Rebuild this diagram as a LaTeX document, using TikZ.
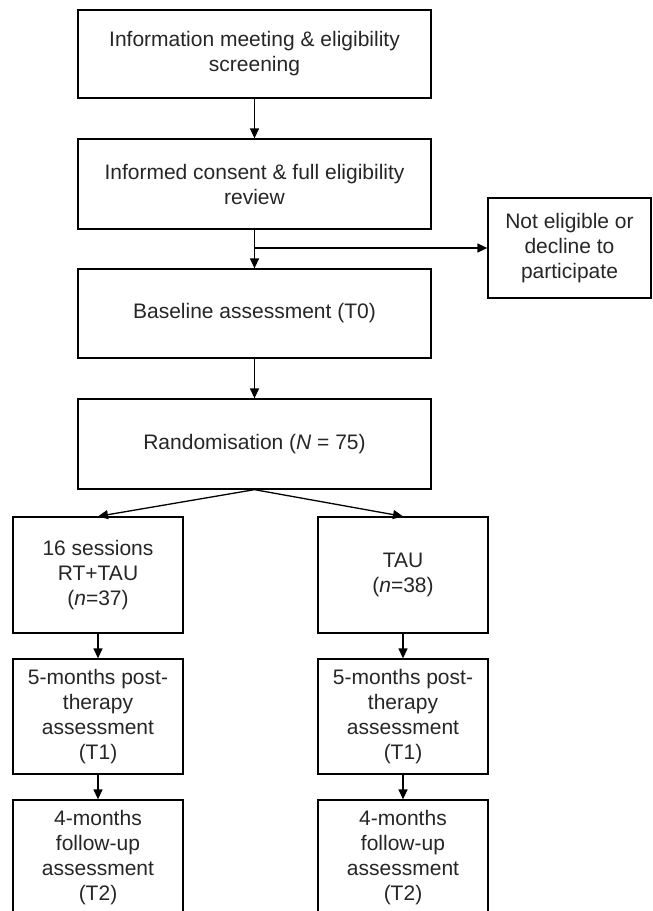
\documentclass[tikz,border=0pt]{standalone}
\usepackage{fontspec}
\setmainfont{Liberation Sans}
\usetikzlibrary{arrows.meta}
\definecolor{txt}{HTML}{262626}
\tikzset{
  box/.style={draw=black, line width=1.3pt, fill=white, align=center, inner sep=0pt,
    text=txt, font=\fontsize{21}{25}\selectfont},
  arr/.style={draw=black, line width=1.3pt, -{Triangle[length=10pt,width=9pt]}},
  ln/.style={draw=black, line width=1.3pt}
}
\begin{document}
\begin{tikzpicture}[x=1pt,y=-1pt]
\useasboundingbox (0,0) rectangle (653,911);
\clip (0,0) rectangle (653,911);
\node[box, minimum width=353pt, minimum height=88pt] (b1) at (254.5,54) {Information meeting \& eligibility\\screening};
\node[box, minimum width=353pt, minimum height=90pt] (b2) at (254.5,184) {Informed consent \& full eligibility\\review};
\node[box, minimum width=353pt, minimum height=89pt] (b3) at (254.5,313.5) {Baseline assessment (T0)};
\node[box, minimum width=353pt, minimum height=90pt] (b4) at (254.5,444) {Randomisation (\textit{N} = 75)};
\node[box, minimum width=163pt, minimum height=100pt] (ne) at (569.5,248) {Not eligible or\\decline to\\participate};
\node[box, minimum width=170pt, minimum height=116pt] (l1) at (98,575) {16 sessions\\RT+TAU\\(\textit{n}=37)};
\node[box, minimum width=170pt, minimum height=116pt] (r1) at (403,575) {TAU\\(\textit{n}=38)};
\node[box, minimum width=170pt, minimum height=115pt] (l2) at (98,716.5) {5-months post-\\therapy\\assessment\\(T1)};
\node[box, minimum width=170pt, minimum height=115pt] (r2) at (403,716.5) {5-months post-\\therapy\\assessment\\(T1)};
\node[box, minimum width=170pt, minimum height=116pt] (l3) at (98,858) {4-months\\follow-up\\assessment\\(T2)};
\node[box, minimum width=170pt, minimum height=116pt] (r3) at (403,858) {4-months\\follow-up\\assessment\\(T2)};
\coordinate (br) at (254.5,248);
\draw[arr] (b1.south) -- (b2.north);
\draw[arr] (b2.south) -- (b3.north);
\draw[arr] (br) -- (ne.west);
\draw[arr] (b3.south) -- (b4.north);
\draw[arr] (b4.south) -- (l1.north);
\draw[arr] (b4.south) -- (r1.north);
\draw[arr] (l1.south) -- (l2.north);
\draw[arr] (l2.south) -- (l3.north);
\draw[arr] (r1.south) -- (r2.north);
\draw[arr] (r2.south) -- (r3.north);
\end{tikzpicture}
\end{document}
